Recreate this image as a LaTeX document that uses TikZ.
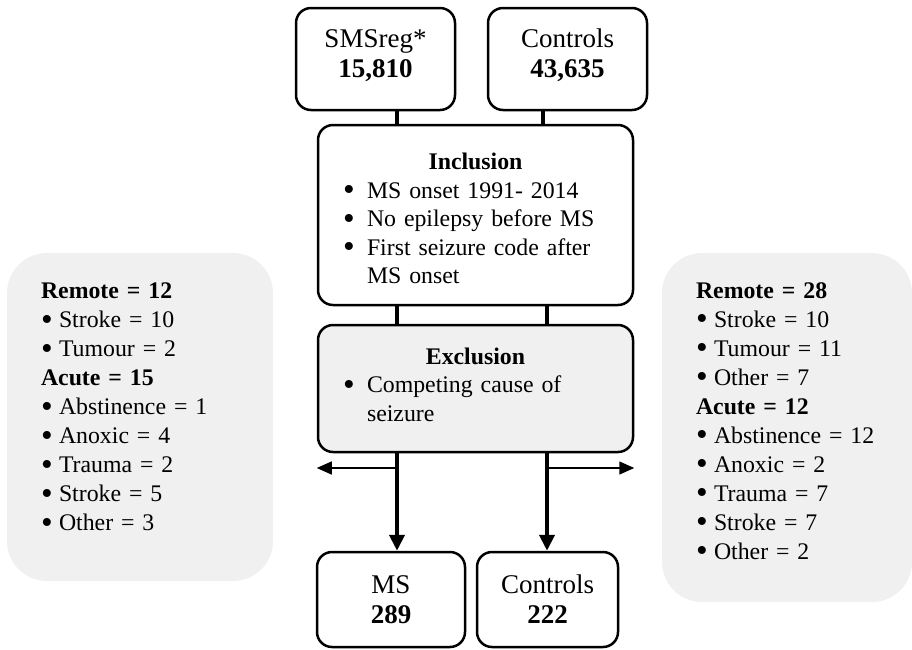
\documentclass[tikz,border=0pt]{standalone}
\usepackage{graphicx}
\usepackage{fontspec}
\setmainfont{Liberation Serif}
\usetikzlibrary{arrows.meta}

\definecolor{notegray}{HTML}{F0F0F0}
\newcommand{\dotmark}{\smash{\raisebox{-0.1em}{\scalebox{1.4}{\textbullet}}}}
\newcommand{\bul}[1]{\makebox[18pt][l]{\dotmark}#1}
\newcommand{\rbul}[1]{\makebox[24pt][l]{\dotmark}#1}
\newcommand{\padlow}[1]{\par\vspace*{#1}\hrule height 0pt depth 0pt}

\tikzset{
    flowbox/.style={draw, line width=2.5pt, rounded corners=15pt, align=center, inner sep=0pt,
        text width=130pt, font=\fontsize{27}{30}\selectfont},
    rulebox/.style={draw, line width=2.5pt, rounded corners=15pt, inner sep=0pt, align=left,
        minimum width=315pt, text width=265pt},
    notebox/.style={fill=notegray, rounded corners=40pt, align=left, inner xsep=34pt, inner ysep=0pt,
        font=\fontsize{23.8}{29}\selectfont},
    trunk/.style={line width=4pt},
    down/.style={trunk, -{Triangle[length=16pt,width=15pt]}},
    aside/.style={line width=1.5pt, -{Triangle[length=15pt,width=13pt]}},
}

\begin{document}
\begin{tikzpicture}[x=1pt,y=-1pt,font=\fontsize{23.8}{28.6}\selectfont]
    \useasboundingbox (0,0) rectangle (912,649);

    % causes of seizure beside the flow
    \node[notebox, text width=198pt, minimum height=328pt] (causeMS) at (140,417)
        {\textbf{Remote = 12}\\ \bul{Stroke = 10}\\ \bul{Tumour = 2}\\ \textbf{Acute = 15}\\
         \bul{Abstinence = 1}\\ \bul{Anoxic = 4}\\ \bul{Trauma = 2}\\ \bul{Stroke = 5}\\ \bul{Other = 3}
         \padlow{20pt}};
    \node[notebox, text width=182pt, minimum height=349pt] (causeCtl) at (787,427.5)
        {\textbf{Remote = 28}\\ \bul{Stroke = 10}\\ \bul{Tumour = 11}\\ \bul{Other = 7}\\ \textbf{Acute = 12}\\
         \bul{Abstinence = 12}\\ \bul{Anoxic = 2}\\ \bul{Trauma = 7}\\ \bul{Stroke = 7}\\ \bul{Other = 2}
         \padlow{12.5pt}};

    \node[flowbox, minimum width=159pt, minimum height=102pt] (smsreg) at (375.5,59)
        {SMSreg*\\\textbf{15,810}\padlow{7pt}};
    \node[flowbox, minimum width=159pt, minimum height=102pt] (ctlIn) at (567.5,59)
        {Controls\\\textbf{43,635}\padlow{7pt}};
    \node[rulebox, minimum height=180pt] (incl) at (475.5,215)
        {{\centering\textbf{Inclusion}\par}
         \rbul{MS onset 1991- 2014}\\ \rbul{No epilepsy before MS}\\
         \rbul{First seizure code after}\\ \hspace*{24pt}MS onset\padlow{-7pt}};
    \node[rulebox, fill=notegray, minimum height=127pt] (excl) at (475.5,388.5)
        {{\centering\textbf{Exclusion}\par}
         \rbul{Competing cause of}\\ \hspace*{24pt}seizure\padlow{7.5pt}};
    \node[flowbox, minimum width=148pt, minimum height=95pt] (msOut) at (391,599.5)
        {MS\\\textbf{289}};
    \node[flowbox, minimum width=141pt, minimum height=95pt] (ctlOut) at (547.5,599.5)
        {Controls\\\textbf{222}};

    \coordinate (laneA) at (397,0);
    \coordinate (laneB) at (543,0);
    \coordinate (laneC) at (547,0);
    \coordinate (cutA) at (397,468);
    \coordinate (cutC) at (547,468);

    \draw[trunk] (smsreg.south -| laneA) -- (incl.north -| laneA);
    \draw[trunk] (ctlIn.south -| laneB) -- (incl.north -| laneB);
    \draw[trunk] (incl.south -| laneA) -- (excl.north -| laneA);
    \draw[trunk] (incl.south -| laneC) -- (excl.north -| laneC);
    \draw[down] (excl.south -| laneA) -- (msOut.north -| laneA);
    \draw[down] (excl.south -| laneC) -- (ctlOut.north -| laneC);
    \draw[aside] (cutA) -- (cutA -| excl.west);
    \draw[aside] (cutC) -- (cutC -| excl.east);
\end{tikzpicture}
\end{document}
